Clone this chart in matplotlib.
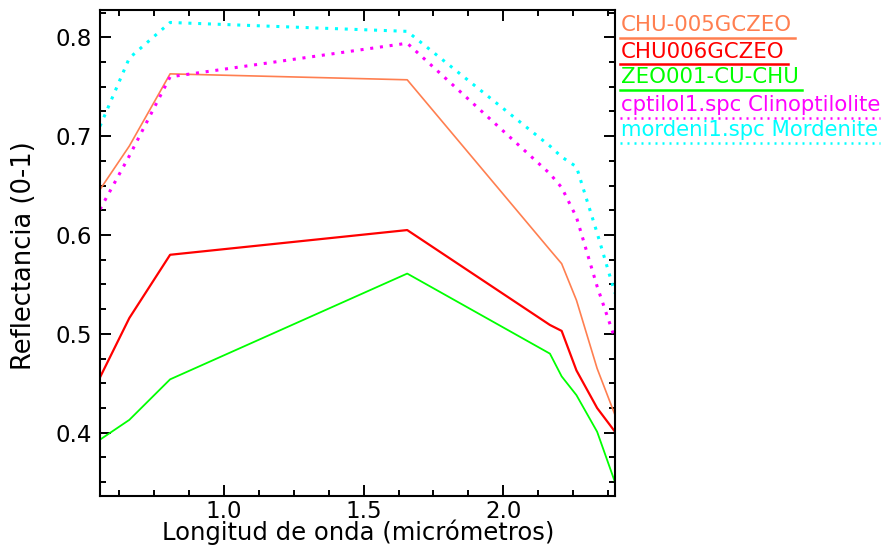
import matplotlib
matplotlib.use("Agg")
import matplotlib.pyplot as plt
from matplotlib.lines import Line2D
from matplotlib.ticker import MultipleLocator

# bandas ASTER (micrometros)
wavelength = [0.556, 0.661, 0.807, 1.656, 2.167, 2.209, 2.262, 2.336, 2.400]

chu005 = [0.646, 0.690, 0.763, 0.757, 0.585, 0.571, 0.534, 0.465, 0.418]
chu006 = [0.456, 0.516, 0.580, 0.605, 0.509, 0.503, 0.463, 0.425, 0.401]
zeo001 = [0.393, 0.413, 0.454, 0.561, 0.480, 0.457, 0.438, 0.401, 0.350]
clinop = [0.626, 0.680, 0.760, 0.794, 0.662, 0.648, 0.618, 0.548, 0.495]
mordeni = [0.710, 0.779, 0.815, 0.806, 0.690, 0.679, 0.669, 0.602, 0.541]

names = ["CHU-005GCZEO", "CHU006GCZEO", "ZEO001-CU-CHU",
         "cptilol1.spc Clinoptilolite", "mordeni1.spc Mordenite"]
series = [chu005, chu006, zeo001, clinop, mordeni]
colors = ["#ff7f50", "#ff0000", "#00ff00", "#ff00ff", "#00ffff"]
dotted = [False, False, False, True, True]
widths = [1.2, 1.6, 1.3, 2.2, 2.2]

fig = plt.figure(figsize=(8.82, 5.47), dpi=100)
ax = fig.add_axes([100 / 882, 1 - 496 / 547, 515 / 882, 486 / 547])

for y, c, d, w in zip(series, colors, dotted, widths):
    if d:
        ax.plot(wavelength, y, color=c, lw=w, linestyle=(0, (1.0, 2.2)))
    else:
        ax.plot(wavelength, y, color=c, lw=w)

ax.set_xlim(0.556, 2.400)
ax.set_ylim(0.336, 0.8276)
ax.xaxis.set_major_locator(MultipleLocator(0.5))
ax.xaxis.set_minor_locator(MultipleLocator(0.125))
ax.yaxis.set_major_locator(MultipleLocator(0.1))
ax.yaxis.set_minor_locator(MultipleLocator(0.025))
ax.xaxis.set_major_formatter(plt.FuncFormatter(lambda v, p: "%.1f" % v))
ax.yaxis.set_major_formatter(plt.FuncFormatter(lambda v, p: "%.1f" % v))
ax.tick_params(which="both", direction="in", top=True, right=True,
               labelsize=16.5, width=1.4, colors="black")
ax.tick_params(which="major", length=8)
ax.tick_params(which="minor", length=4.5)
ax.tick_params(axis="x", pad=3)
ax.tick_params(axis="y", pad=6)
for s in ax.spines.values():
    s.set_linewidth(1.5)

fig.text(358 / 882, 1 - 532 / 547, "Longitud de onda (micrómetros)",
         ha="center", va="center", fontsize=17.5)
fig.text(24 / 882, 1 - 256 / 547, "Reflectancia (0-1)", rotation=90,
         ha="center", va="center", fontsize=18.5)

# leyenda con texto de color y linea debajo
ycent = [25, 51.7, 77.3, 105, 130]
texts = []
for n, c, yc in zip(names, colors, ycent):
    t = fig.text(621 / 882, 1 - yc / 547, n, color=c, fontsize=15.3,
                 ha="left", va="center")
    texts.append(t)

fig.canvas.draw()
r = fig.canvas.get_renderer()
for t, c, d, yc in zip(texts, colors, dotted, ycent):
    bb = t.get_window_extent(r)
    yl = 1 - (yc + 12.5) / 547
    x0 = 620 / 882
    x1 = min(bb.x1 + 3, 880) / 882
    if d:
        ln = Line2D([x0, x1], [yl, yl], transform=fig.transFigure, color=c,
                    lw=1.8, linestyle=(0, (0.8, 2.0)))
    else:
        ln = Line2D([x0, x1], [yl, yl], transform=fig.transFigure, color=c,
                    lw=1.8)
    fig.add_artist(ln)

fig.savefig("out.png", dpi=100)
